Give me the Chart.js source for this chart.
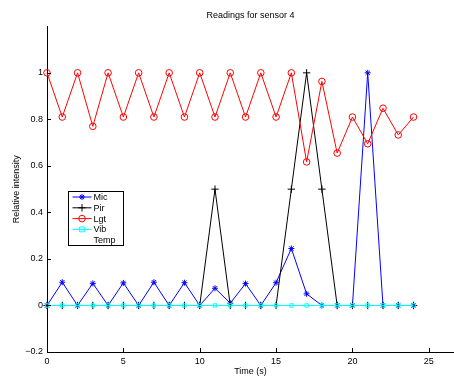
<!DOCTYPE html>
<html>
<head>
<meta charset="utf-8">
<script src="https://cdn.jsdelivr.net/npm/chart.js@4/dist/chart.umd.min.js"></script>
<style>
html, body { margin: 0; padding: 0; background: #fff; }
#wrap { width: 454px; height: 378px; position: relative; }
</style>
</head>
<body>
<div id="wrap"><canvas id="myChart"></canvas></div>
<script>
// time axis (seconds)
var times = [0,1,2,3,4,5,6,7,8,9,10,11,12,13,14,15,16,17,18,19,20,21,22,23,24];

// readings
var micValues = [0,0.10,0,0.095,0,0.097,0,0.10,0,0.098,0,0.074,0.01,0.094,0,0.098,0.245,0.05,0,0,0,1.0,0,0,0];
var pirValues = [0,0,0,0,0,0,0,0,0,0,0,0.5,0,0,0,0,0.5,1.0,0.5,0,0,0,0,0,0];
var lgtValues = [1,0.81,1,0.77,1,0.81,1,0.81,1,0.81,1,0.81,1,0.81,1,0.81,1,0.617,0.963,0.655,0.81,0.695,0.848,0.733,0.81];
var vibValues = [0,0,0,0,0,0,0,0,0,0,0,0,0,0,0,0,0,0,0,0,0,0,0,0,0];
var tempValues = []; // Temp has no visible points

var xTicks = [0,5,10,15,20,25];
var yTicks = [-0.2,0,0.2,0.4,0.6,0.8,1];

var fontFamily = '"Liberation Sans", Arial, Helvetica, sans-serif';

var markerSize = { star: 3, cross: 3.7, circle: 3.3, rect: 2.4 };

function toPoints(vals) {
    var pts = [];
    for (var i = 0; i < vals.length; i++) {
        pts.push({ x: times[i], y: vals[i] });
    }
    return pts;
}

function fmtTick(v) {
    var s = String(Math.round(v * 10) / 10);
    return s.replace('-', '\u2212');
}

// draw a matlab-like marker (for the legend)
function drawMarker(ctx, style, color, x, y) {
    var r = markerSize[style];
    ctx.save();
    ctx.strokeStyle = color;
    ctx.lineWidth = 1;
    ctx.beginPath();
    if (style === 'star') {
        ctx.moveTo(x - r, y); ctx.lineTo(x + r, y);
        ctx.moveTo(x, y - r); ctx.lineTo(x, y + r);
        var d = r * 0.7;
        ctx.moveTo(x - d, y - d); ctx.lineTo(x + d, y + d);
        ctx.moveTo(x - d, y + d); ctx.lineTo(x + d, y - d);
    } else if (style === 'cross') {
        ctx.moveTo(x - r, y); ctx.lineTo(x + r, y);
        ctx.moveTo(x, y - r); ctx.lineTo(x, y + r);
    } else if (style === 'circle') {
        ctx.arc(x, y, r, 0, Math.PI * 2);
    } else if (style === 'rect') {
        ctx.rect(x - r, y - r, 2 * r, 2 * r);
    }
    ctx.stroke();
    ctx.restore();
}

// inward tick marks, like matlab
var innerTicks = {
    id: 'innerTicks',
    afterDraw: function(chart) {
        var ctx = chart.ctx;
        var xs = chart.scales.x, ys = chart.scales.y;
        var area = chart.chartArea;
        ctx.save();
        ctx.strokeStyle = '#000';
        ctx.lineWidth = 1;
        ctx.beginPath();
        xTicks.forEach(function(v) {
            var px = Math.round(xs.getPixelForValue(v)) + 0.5;
            ctx.moveTo(px, area.bottom);
            ctx.lineTo(px, area.bottom - 4);
        });
        yTicks.forEach(function(v) {
            var py = Math.round(ys.getPixelForValue(v)) + 0.5;
            ctx.moveTo(area.left, py);
            ctx.lineTo(area.left + 4, py);
        });
        ctx.stroke();
        ctx.restore();
    }
};

// legend box inside the axes
var legendBox = {
    id: 'legendBox',
    afterDraw: function(chart) {
        var ctx = chart.ctx;
        var bx = 68.5, by = 191.5, bw = 55, bh = 54;
        ctx.save();
        ctx.fillStyle = '#fff';
        ctx.fillRect(bx, by, bw, bh);
        ctx.strokeStyle = '#000';
        ctx.lineWidth = 1;
        ctx.strokeRect(bx, by, bw, bh);
        ctx.font = '9px ' + fontFamily;
        ctx.textBaseline = 'middle';
        ctx.textAlign = 'left';
        chart.data.datasets.forEach(function(ds, i) {
            var cy = by + 5.5 + i * 10.8;
            if (ds.data.length) {
                ctx.strokeStyle = ds.borderColor;
                ctx.beginPath();
                ctx.moveTo(72.5, cy);
                ctx.lineTo(91.5, cy);
                ctx.stroke();
                drawMarker(ctx, ds.pointStyle, ds.borderColor, 82, cy);
            }
            ctx.fillStyle = '#000';
            ctx.fillText(ds.label, 93.5, cy + 0.5);
        });
        ctx.restore();
    }
};

function makeSet(label, vals, color, style, order) {
    return {
        label: label,
        data: toPoints(vals),
        borderColor: color,
        backgroundColor: 'rgba(0,0,0,0)',
        borderWidth: 1,
        pointStyle: style,
        pointRadius: markerSize[style],
        pointBorderWidth: 1,
        pointBorderColor: color,
        pointBackgroundColor: 'rgba(0,0,0,0)',
        tension: 0,
        clip: false,
        order: order
    };
}

Chart.defaults.font.family = fontFamily;
Chart.defaults.font.size = 9;
Chart.defaults.color = '#000';

var ctx = document.getElementById('myChart').getContext('2d');
var myChart = new Chart(ctx, {
    type: 'line',
    data: {
        datasets: [
            makeSet('Mic', micValues, '#0000ff', 'star', 3),
            makeSet('Pir', pirValues, '#000000', 'cross', 2),
            makeSet('Lgt', lgtValues, '#ff0000', 'circle', 1),
            makeSet('Vib', vibValues, '#00ffff', 'rect', 0),
            makeSet('Temp', tempValues, '#008000', 'circle', -1)
        ]
    },
    options: {
        responsive: true,
        maintainAspectRatio: false,
        animation: false,
        events: [],
        layout: { autoPadding: false, padding: { top: 0, right: 0, bottom: 0, left: 0 } },
        plugins: {
            legend: { display: false },
            tooltip: { enabled: false },
            title: {
                display: true,
                text: 'Readings for sensor 4',
                fullSize: false,
                color: '#000',
                font: { size: 9, weight: 'normal', family: fontFamily },
                padding: { top: 10.5, bottom: 5 }
            }
        },
        scales: {
            x: {
                type: 'linear',
                min: 0,
                max: 26.65,
                afterBuildTicks: function(scale) {
                    scale.ticks = xTicks.map(function(v) { return { value: v }; });
                },
                afterFit: function(scale) {
                    scale.height = 26;
                    scale.paddingLeft = 0;
                    scale.paddingRight = 0;
                },
                grid: { display: false, drawTicks: false },
                border: { display: true, color: '#000', width: 1 },
                ticks: { padding: 4, maxRotation: 0, callback: function(v) { return fmtTick(v); } },
                title: { display: true, text: 'Time (s)', padding: { top: 0, bottom: 1 }, font: { size: 9 } }
            },
            y: {
                type: 'linear',
                min: -0.2,
                max: 1.2,
                afterBuildTicks: function(scale) {
                    scale.ticks = yTicks.map(function(v) { return { value: v }; });
                },
                afterFit: function(scale) {
                    scale.width = 47;
                    scale.paddingTop = 0;
                    scale.paddingBottom = 0;
                },
                grid: { display: false, drawTicks: false },
                border: { display: true, color: '#000', width: 1 },
                ticks: { padding: 4, callback: function(v) { return fmtTick(v); } },
                title: { display: true, text: 'Relative intensity', padding: { top: 11, bottom: 0 }, font: { size: 9 } }
            }
        }
    },
    plugins: [innerTicks, legendBox]
});
</script>
</body>
</html>
